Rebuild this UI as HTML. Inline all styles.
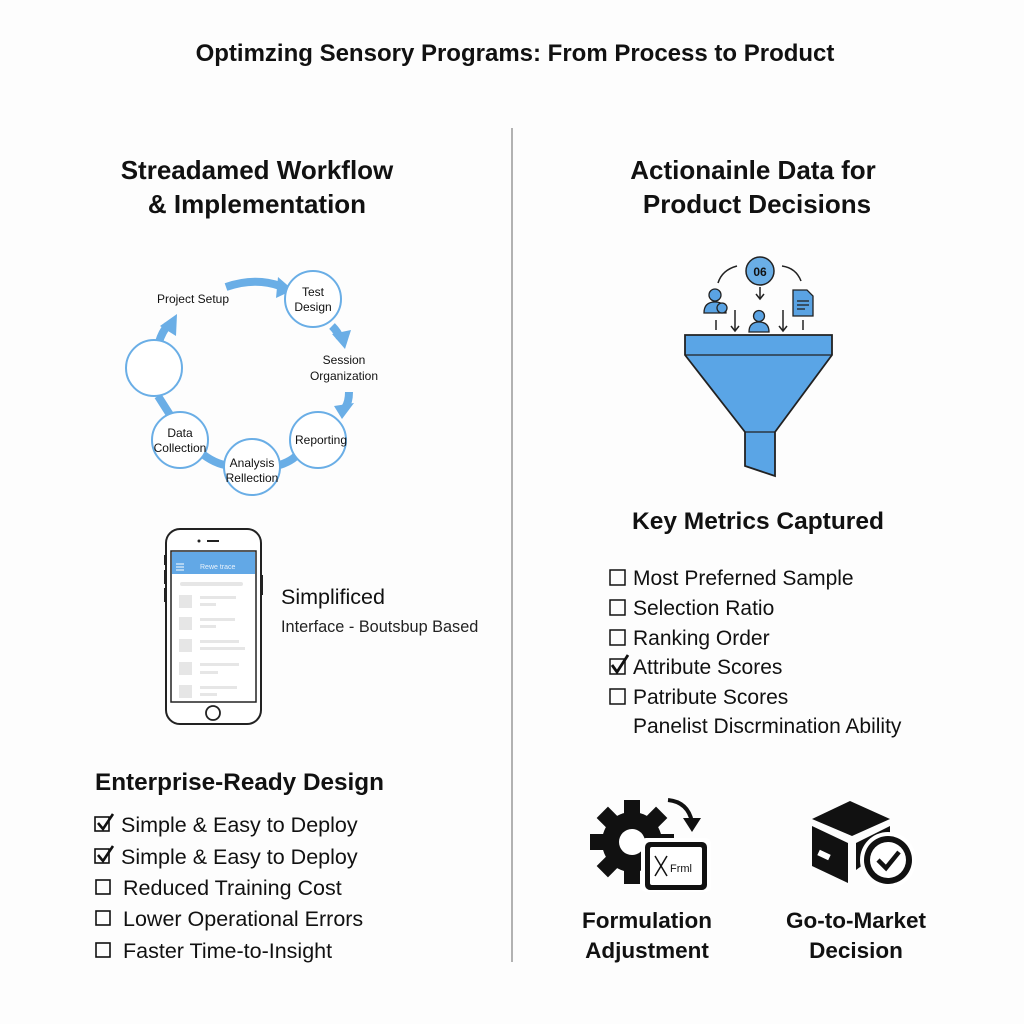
<!DOCTYPE html>
<html><head><meta charset="utf-8"><style>
html,body{margin:0;padding:0;background:#fff}
svg{display:block}
text{font-family:"Liberation Sans",sans-serif;fill:#111}
.h{font-weight:bold}
</style></head><body>
<svg width="1024" height="1024" viewBox="0 0 1024 1024" xmlns="http://www.w3.org/2000/svg">
<rect width="1024" height="1024" fill="#fdfdfd"/>
<text x="515" y="61" text-anchor="middle" font-size="24" class="h">Optimzing Sensory Programs: From Process to Product</text>
<line x1="512" y1="128" x2="512" y2="962" stroke="#999" stroke-width="1.5"/>

<text x="257" y="179" text-anchor="middle" font-size="26" class="h">Streadamed Workflow</text>
<text x="257" y="213" text-anchor="middle" font-size="26" class="h">&amp; Implementation</text>
<text x="753" y="179" text-anchor="middle" font-size="26" class="h">Actionainle Data for</text>
<text x="757" y="213" text-anchor="middle" font-size="26" class="h">Product Decisions</text>

<!-- cycle -->
<g fill="none" stroke="#6aaee6" stroke-width="8">
<path d="M226 287 Q255 277 280 286"/>
<path d="M332 326 Q338 332 340 338"/>
<path d="M349 392 Q349 402 345 408"/>
<path d="M158 396 L172 418"/>
<path d="M200 452 Q214 464 230 466"/>
<path d="M276 466 Q292 462 300 452"/>
<path d="M159 342 Q162 332 168 325"/>
</g>
<g fill="#6aaee6">
<polygon points="278,277 293,290 276,298"/>
<polygon points="332,334 351,330 345,349"/>
<polygon points="334,406 354,403 342,419"/>
<polygon points="160,326 177,314 176,336"/>
</g>
<g fill="#fff" stroke="#6aaee6" stroke-width="2">
<circle cx="313" cy="299" r="28"/>
<circle cx="154" cy="368" r="28"/>
<circle cx="318" cy="440" r="28"/>
<circle cx="180" cy="440" r="28"/>
<circle cx="252" cy="467" r="28"/>
</g>
<g font-size="12" text-anchor="middle">
<text x="193" y="303">Project Setup</text>
<text x="313" y="296">Test</text><text x="313" y="311">Design</text>
<text x="344" y="364">Session</text><text x="344" y="380">Organization</text>
<text x="321" y="444">Reporting</text>
<text x="180" y="437">Data</text><text x="180" y="452">Collection</text>
<text x="252" y="467">Analysis</text><text x="252" y="482">Rellection</text>
</g>

<!-- phone -->
<rect x="166" y="529" width="95" height="195" rx="14" fill="#fff" stroke="#222" stroke-width="2"/>
<rect x="164" y="555" width="3" height="10" fill="#222"/><rect x="164" y="570" width="3" height="14" fill="#222"/><rect x="164" y="588" width="3" height="14" fill="#222"/><rect x="260" y="575" width="3" height="20" fill="#222"/>
<circle cx="199" cy="541" r="1.5" fill="#222"/><rect x="207" y="540" width="12" height="2" fill="#222"/>
<rect x="171" y="551" width="85" height="151" fill="#fff" stroke="#222" stroke-width="1.5"/>
<rect x="172" y="552" width="83" height="22" fill="#62a8e6"/>
<g stroke="#fff" stroke-width="1"><line x1="176" y1="564" x2="184" y2="564"/><line x1="176" y1="567" x2="184" y2="567"/><line x1="176" y1="570" x2="184" y2="570"/></g>
<text x="200" y="569" font-size="7" style="fill:#e8f2fc">Rewe trace</text>
<g fill="#e6e6e6">
<rect x="180" y="582" width="63" height="4" rx="2"/>
<rect x="179" y="595" width="13" height="13"/><rect x="200" y="596" width="36" height="3"/><rect x="200" y="603" width="16" height="3"/>
<rect x="179" y="617" width="13" height="13"/><rect x="200" y="618" width="35" height="3"/><rect x="200" y="625" width="16" height="3"/>
<rect x="179" y="639" width="13" height="13"/><rect x="200" y="640" width="39" height="3"/><rect x="200" y="647" width="45" height="3"/>
<rect x="179" y="662" width="13" height="13"/><rect x="200" y="663" width="39" height="3"/><rect x="200" y="671" width="18" height="3"/>
<rect x="179" y="685" width="13" height="13"/><rect x="200" y="686" width="37" height="3"/><rect x="200" y="693" width="17" height="3"/>
</g>
<circle cx="213" cy="713" r="7" fill="#fff" stroke="#222" stroke-width="1.8"/>
<text x="281" y="604" font-size="21.5">Simplificed</text>
<text x="281" y="632" font-size="16.3" style="fill:#222">Interface - Boutsbup Based</text>

<!-- enterprise -->
<text x="95" y="790" font-size="24.3" class="h">Enterprise-Ready Design</text>
<g font-size="21.5">
<text x="121" y="832">Simple &amp; Easy to Deploy</text>
<text x="121" y="864">Simple &amp; Easy to Deploy</text>
<text x="123" y="895">Reduced Training Cost</text>
<text x="123" y="926">Lower Operational Errors</text>
<text x="123" y="958">Faster Time-to-Insight</text>
</g>
<g fill="none" stroke="#111" stroke-width="1.6">
<rect x="95" y="817" width="14" height="14"/><rect x="95" y="849" width="14" height="14"/>
<rect x="96" y="880" width="14" height="14"/><rect x="96" y="911" width="14" height="14"/><rect x="96" y="943" width="14" height="14"/>
</g>
<g fill="none" stroke="#111" stroke-width="2.6">
<path d="M98 823 L103 829 L113 814"/><path d="M98 855 L103 861 L113 846"/>
</g>

<!-- funnel icons -->
<g stroke="#222" stroke-width="1.5" fill="none">
<path d="M718 283 Q722 270 737 266"/><path d="M782 266 Q796 268 801 281"/>
<line x1="760" y1="287" x2="760" y2="298"/><polyline points="756,294 760,299 764,294"/>
<line x1="735" y1="310" x2="735" y2="330"/><polyline points="731,326 735,331 739,326"/>
<line x1="783" y1="310" x2="783" y2="330"/><polyline points="779,326 783,331 787,326"/>
<line x1="716" y1="320" x2="716" y2="330"/><line x1="803" y1="320" x2="803" y2="330"/>
</g>
<circle cx="760" cy="271" r="14" fill="#6aaee6" stroke="#222" stroke-width="1.5"/>
<text x="760" y="276" font-size="12" text-anchor="middle" class="h">06</text>
<g fill="#5aa3e3" stroke="#222" stroke-width="1.3">
<circle cx="715" cy="295" r="6"/><path d="M704 313 Q704 302 715 302 Q726 302 726 313 Z"/>
<circle cx="722" cy="308" r="5"/>
<circle cx="759" cy="316" r="5.5"/><path d="M749 332 Q749 322 759 322 Q769 322 769 332 Z"/>
<path d="M793 290 L807 290 L813 296 L813 316 L793 316 Z"/>
</g>
<g stroke="#222" stroke-width="1.3"><line x1="797" y1="301" x2="809" y2="301"/><line x1="797" y1="305" x2="809" y2="305"/><line x1="797" y1="309" x2="805" y2="309"/></g>
<!-- funnel -->
<path d="M685 335 L832 335 L832 355 L775 432 L775 476 L745 466 L745 432 L685 355 Z" fill="#5aa5e6" stroke="#222" stroke-width="1.8"/>
<line x1="685" y1="355" x2="832" y2="355" stroke="#222" stroke-width="1.3"/>
<line x1="745" y1="432" x2="775" y2="432" stroke="#222" stroke-width="1.3"/>

<text x="758" y="529" text-anchor="middle" font-size="24.5" class="h">Key Metrics Captured</text>
<g font-size="21">
<text x="633" y="585">Most Preferned Sample</text>
<text x="633" y="615">Selection Ratio</text>
<text x="633" y="645">Ranking Order</text>
<text x="633" y="674">Attribute Scores</text>
<text x="633" y="704">Patribute Scores</text>
<text x="633" y="733">Panelist Discrmination Ability</text>
</g>
<g fill="none" stroke="#111" stroke-width="1.5">
<rect x="610" y="570" width="15" height="15"/><rect x="610" y="600" width="15" height="15"/><rect x="610" y="630" width="15" height="15"/>
<rect x="610" y="659" width="15" height="15"/><rect x="610" y="689" width="15" height="15"/>
</g>
<path d="M612 665 L617 672 L628 655" fill="none" stroke="#111" stroke-width="2.8"/>

<!-- gear icon -->
<g fill="#111">
<circle cx="632" cy="842" r="30"/>
<g transform="translate(632,842)">
<rect x="-8" y="-42" width="16" height="16"/><rect x="-8" y="26" width="16" height="16"/>
<rect x="-42" y="-8" width="16" height="16"/><rect x="26" y="-8" width="16" height="16"/>
<rect x="-8" y="-42" width="16" height="16" transform="rotate(45)"/><rect x="-8" y="-42" width="16" height="16" transform="rotate(-45)"/>
<rect x="-8" y="-42" width="16" height="16" transform="rotate(135)"/><rect x="-8" y="-42" width="16" height="16" transform="rotate(-135)"/>
</g>
</g>
<circle cx="632" cy="842" r="13" fill="#fff"/>
<path d="M668 800 Q688 802 692 822" fill="none" stroke="#111" stroke-width="4"/>
<polygon points="683,818 701,818 692,832" fill="#111"/>
<rect x="641" y="838" width="70" height="54" rx="5" fill="#fff"/>
<rect x="645" y="842" width="62" height="48" rx="5" fill="#111"/>
<rect x="650" y="847" width="52" height="38" rx="2" fill="#fff"/>
<g stroke="#111" stroke-width="1.5"><line x1="655" y1="856" x2="667" y2="876"/><line x1="667" y1="856" x2="655" y2="876"/></g>
<text x="670" y="872" font-size="11">Frml</text>
<!-- box icon -->
<g fill="#111">
<polygon points="812,819 850,801 890,819 852,836"/>
<polygon points="812,826 848,843 848,883 812,866"/>
<polygon points="856,843 890,826 890,845 856,870"/>
</g>
<rect x="818" y="852" width="12" height="6" fill="#fff" transform="rotate(25 824 855)"/>
<circle cx="888" cy="860" r="28" fill="#fff"/>
<circle cx="888" cy="860" r="24" fill="#111"/>
<circle cx="888" cy="860" r="18" fill="#fff"/>
<path d="M878 860 L886 868 L899 852" fill="none" stroke="#111" stroke-width="4.5"/>

<g font-size="22.5" class="h" text-anchor="middle">
<text x="647" y="928">Formulation</text><text x="647" y="958">Adjustment</text>
<text x="856" y="928">Go-to-Market</text><text x="856" y="958">Decision</text>
</g>
</svg>
</body></html>
